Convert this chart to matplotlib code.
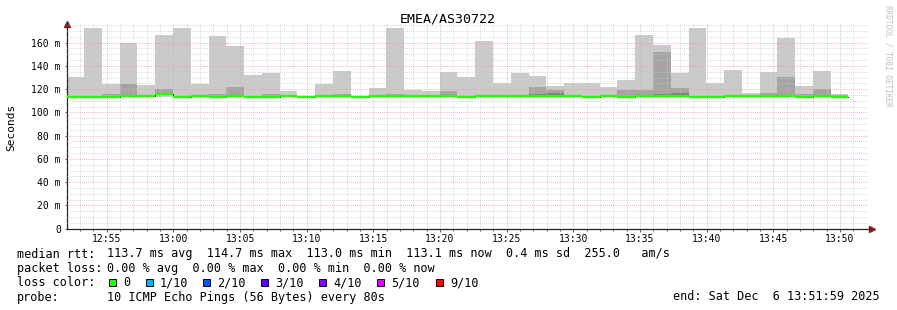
import numpy as np
import matplotlib
matplotlib.use("Agg")
import matplotlib.pyplot as plt
from matplotlib.patches import Rectangle

plt.rcParams['font.family'] = ['DejaVu Sans Mono']

title = "EMEA/AS30722"
# time axis in minutes after 12:00, one bar every 80 s
step = 80 / 60.0
first_start = 51.97
t_min, t_max = 52.02, 112.1

# smoke: max ping, 9th ping, 8th ping, median, min ping (ms)
rtt_max = [130.8, 172.6, 124.4, 160.0, 123.9, 166.6, 172.6, 124.2, 165.7, 157.1,
           132.2, 134.2, 118.7, 113.6, 124.7, 135.9, 113.5, 121.0, 172.6, 119.6,
           118.4, 135.0, 130.5, 161.1, 125.3, 133.9, 131.3, 123.0, 125.3, 125.3,
           121.9, 127.9, 166.6, 158.0, 134.2, 172.6, 125.3, 136.5, 116.7, 134.8,
           164.3, 123.0, 135.6, 115.8]
rtt_p9 = [114.0, 114.0, 115.8, 124.4, 114.6, 119.9, 113.8, 114.6, 115.8, 121.9,
          114.0, 115.8, 114.5, 113.5, 114.6, 115.8, 113.5, 114.6, 115.8, 114.6,
          114.6, 118.7, 114.0, 114.5, 114.5, 114.6, 121.9, 119.0, 114.6, 114.0,
          114.6, 119.0, 119.6, 152.0, 121.0, 114.0, 114.0, 114.6, 114.6, 117.0,
          130.5, 116.0, 120.1, 115.0]
rtt_p8 = [113.6, 113.6, 114.0, 114.4, 114.4, 115.8, 113.6, 114.4, 113.6, 114.4,
          113.6, 113.6, 114.2, 113.5, 114.4, 114.4, 113.5, 114.4, 114.4, 114.4,
          114.4, 114.4, 113.6, 114.2, 114.2, 114.4, 116.0, 116.7, 114.4, 113.6,
          114.4, 113.6, 114.4, 115.8, 117.0, 113.6, 113.6, 114.4, 114.4, 114.4,
          114.4, 113.6, 114.4, 113.9]
rtt_median = [113.3, 113.3, 113.6, 114.1, 114.1, 115.5, 113.3, 114.1, 113.3, 114.1,
              113.3, 113.3, 114.0, 113.3, 114.1, 114.1, 113.3, 114.1, 114.1, 114.1,
              114.1, 114.1, 113.3, 113.9, 113.9, 114.1, 114.1, 114.1, 114.1, 113.3,
              114.1, 113.3, 114.1, 114.1, 114.1, 113.3, 113.3, 114.1, 114.1, 114.1,
              114.1, 113.3, 114.1, 113.6]
rtt_min = [113.0, 113.0, 113.2, 113.7, 113.7, 113.0, 113.0, 113.7, 113.0, 113.7,
           113.0, 113.0, 113.6, 113.0, 113.7, 113.7, 113.0, 113.7, 113.7, 113.7,
           113.7, 113.7, 113.0, 113.5, 113.5, 113.7, 113.7, 113.7, 113.7, 113.0,
           113.7, 113.0, 113.7, 113.7, 113.7, 113.0, 113.0, 113.7, 113.7, 113.7,
           113.7, 113.0, 113.7, 113.2]

xtick_pos = [55, 60, 65, 70, 75, 80, 85, 90, 95, 100, 105, 110]
xtick_labels = ["12:55", "13:00", "13:05", "13:10", "13:15", "13:20",
                "13:25", "13:30", "13:35", "13:40", "13:45", "13:50"]
ytick_pos = [0, 20, 40, 60, 80, 100, 120, 140, 160]
ytick_labels = ["0", "20 m", "40 m", "60 m", "80 m", "100 m", "120 m", "140 m", "160 m"]

loss_colors = ["#26ff00", "#00b8ff", "#0059ff", "#5e00ff", "#7e00ff", "#dd00ff", "#ff0000"]
loss_labels = ["0", "1/10", "2/10", "3/10", "4/10", "5/10", "9/10"]

W, H = 897, 310
fig = plt.figure(figsize=(W / 100, H / 100), dpi=100)
ax = fig.add_axes([67 / W, 1 - 228.7 / H, 801 / W, 204.7 / H])

n = len(rtt_max)
edges = first_start + step * np.arange(n + 1)

def ext(v):
    v = np.asarray(v, float)
    return np.append(v, v[-1])

lo2 = np.array(rtt_median) - 0.3
lo3 = np.array(rtt_median) - 0.2
ax.fill_between(edges, ext(rtt_min), ext(rtt_max), step='post', color='#cacaca', lw=0, zorder=1)
ax.fill_between(edges, ext(lo2), ext(rtt_p9), step='post', color='#a4a4a4', lw=0, zorder=1.1)
ax.fill_between(edges, ext(lo3), ext(rtt_p8), step='post', color='#7e7e7e', lw=0, zorder=1.2)

ax.step(edges, ext(rtt_median), where='post', color='#202020', lw=0.7, zorder=3)
ax.hlines(rtt_median, edges[:-1], edges[1:], color=loss_colors[0], lw=1.7, zorder=3.5)

ax.set_xlim(t_min, t_max)
ax.set_ylim(0, 176)
ax.set_xticks(xtick_pos)
ax.set_xticklabels(xtick_labels)
ax.set_xticks(np.arange(53, 112, 1), minor=True)
ax.set_yticks(ytick_pos)
ax.set_yticklabels(ytick_labels)
ax.set_yticks(np.arange(0, 176, 5), minor=True)

ax.set_axisbelow(False)
ax.grid(which='minor', color='#c8c8c8', linestyle=(0, (1, 1.5)), lw=0.6)
ax.grid(which='major', color='#f29a9a', linestyle=(0, (1, 1.5)), lw=0.6)

for s in ['top', 'right']:
    ax.spines[s].set_visible(False)
for s in ['left', 'bottom']:
    ax.spines[s].set_color('#202020')
    ax.spines[s].set_linewidth(0.9)
ax.tick_params(which='both', direction='out', length=2, color='#404040',
               labelsize=7, width=0.6)
ax.tick_params(axis='y', pad=3, length=1.5)
ax.tick_params(axis='y', which='minor', length=0)
ax.tick_params(axis='x', pad=2)
ax.tick_params(axis='x', which='minor', length=1.5)

ax.plot([0], [1.0], marker='^', ms=4, color='#8b1a1a', transform=ax.transAxes, clip_on=False)
ax.plot([1.005], [0], marker='>', ms=4, color='#8b1a1a', transform=ax.transAxes, clip_on=False)

def px(x, y):
    return x / W, 1 - y / H

fig.text(*px(448, 19), title, fontsize=9.5, ha='center', va='center')
fig.text(*px(11, 127), "Seconds", fontsize=8, rotation=90, ha='center', va='center')
fig.text(*px(888, 5), "RRDTOOL / TOBI OETIKER", fontsize=5.5, rotation=270,
         ha='center', va='top', color='#c0c0c0')

fs = 8.5
rows = [
    (254, "median rtt:", "113.7 ms avg  114.7 ms max  113.0 ms min  113.1 ms now  0.4 ms sd  255.0   am/s"),
    (268.5, "packet loss:", "0.00 % avg  0.00 % max  0.00 % min  0.00 % now"),
    (282.5, "loss color:", None),
    (297, "probe:", "10 ICMP Echo Pings (56 Bytes) every 80s"),
]
for y, label, value in rows:
    fig.text(*px(16.7, y), label, fontsize=fs, va='center', ha='left')
    if value:
        fig.text(*px(107.3, y), value, fontsize=fs, va='center', ha='left')

box_x = [109, 146, 203, 261, 319, 377, 436]
for bx, c, lab in zip(box_x, loss_colors, loss_labels):
    x0, y0 = px(bx, 286)
    fig.patches.append(Rectangle((x0, y0), 7 / W, 7 / H, transform=fig.transFigure,
                                 facecolor=c, edgecolor='black', lw=0.7))
    fig.text(*px(bx + 14, 282.5), lab, fontsize=fs, va='center', ha='left')

fig.text(*px(880, 297), "end: Sat Dec  6 13:51:59 2025", fontsize=fs, va='center', ha='right')

fig.savefig("out.png", dpi=100, facecolor='white')
